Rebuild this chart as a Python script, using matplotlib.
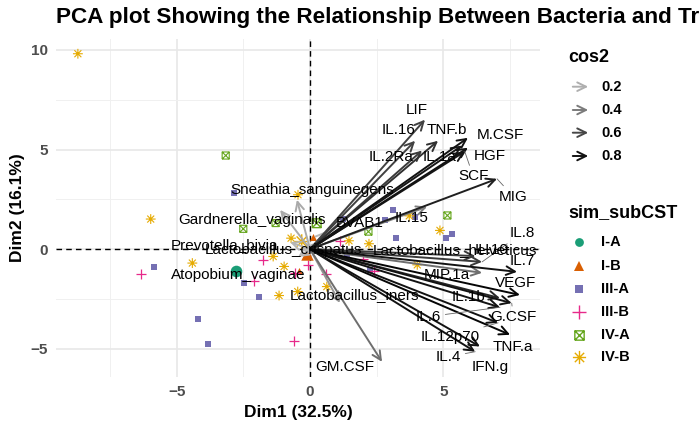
import numpy as np
import matplotlib
matplotlib.use("Agg")
import matplotlib.pyplot as plt
from matplotlib.path import Path
from matplotlib.colors import LinearSegmentedColormap, Normalize
from matplotlib.patches import FancyArrowPatch

plt.rcParams['font.family'] = ['Liberation Sans', 'DejaVu Sans']

# ---------------- data ----------------
var_names = ["LIF", "IL.16", "TNF.b", "M.CSF", "HGF", "IL.2Ra", "IL.1a", "SCF", "MIG",
             "IL.15", "IL.8", "IL.10", "IL.7", "MIP.1a", "VEGF", "IL.1b", "G.CSF", "IL.6",
             "IL.12p70", "TNF.a", "IFN.g", "IL.4", "GM.CSF",
             "Sneathia_sanguinegens", "Gardnerella_vaginalis", "Prevotella_bivia",
             "Atopobium_vaginae", "Lactobacillus_iners", "Lactobacillus_crispatus",
             "Lactobacillus_helveticus", "BVAB1"]
var_x = [4.31, 3.94, 4.80, 5.92, 5.92, 4.20, 5.70, 5.80, 7.01,
         4.39, 6.45, 6.20, 7.76, 6.45, 7.87, 7.12, 7.56, 7.12,
         7.05, 7.50, 6.37, 6.19, 2.70,
         -0.49, -1.12, -0.75, -0.45, 1.12, -0.30, 0.30, 0.60]
var_y = [6.50, 5.44, 5.44, 5.59, 5.09, 4.95, 5.20, 4.90, 3.53,
         2.13, -0.64, -0.35, -1.14, -1.19, -2.30, -2.46, -2.71, -2.92,
         -3.70, -4.30, -4.89, -5.15, -5.66,
         2.48, 1.97, 0.35, -0.40, -2.70, -0.05, -0.05, 0.90]
var_cos2 = [0.62, 0.62, 0.68, 0.80, 0.80, 0.65, 0.78, 0.78, 0.75,
            0.38, 0.65, 0.65, 0.80, 0.45, 0.85, 0.72, 0.80, 0.80,
            0.80, 0.85, 0.80, 0.80, 0.45,
            0.22, 0.22, 0.18, 0.17, 0.30, 0.17, 0.17, 0.17]
lab_x = [4.00, 3.31, 5.13, 7.12, 6.75, 3.03, 4.87, 6.12, 7.62,
         3.81, 7.94, 6.81, 7.94, 5.13, 7.69, 5.94, 7.62, 4.44,
         5.25, 7.62, 6.75, 5.19, 1.31,
         0.08, -2.17, -3.22, -2.70, 1.65, -0.99, 5.44, 1.87]
lab_y = [7.00, 5.99, 5.99, 5.74, 4.69, 4.65, 4.65, 3.65, 2.64,
         1.56, 0.80, -0.04, -0.62, -1.29, -1.71, -2.38, -3.42, -3.39,
         -4.39, -4.89, -5.90, -5.40, -5.90,
         2.98, 1.44, 0.22, -1.29, -2.30, -0.04, -0.04, 1.31]
leader_vars = ["MIG", "SCF", "IL.8", "IL.6", "IL.12p70", "IL.4", "G.CSF"]

groups = ["I-A", "I-B", "III-A", "III-B", "IV-A", "IV-B"]
ind_x = {
    "I-A": [-2.79],
    "I-B": [0.12, -0.40],
    "III-A": [-2.85, -5.84, -4.20, -3.81, -2.47, -1.90, 1.25, 3.10, 2.81, 3.94, 3.22, 5.09, 5.31, 2.25, 1.40],
    "III-B": [-6.35, -1.75, -0.56, -0.06, 0.59, -2.09, -0.59, 1.12, 2.00, 2.40],
    "IV-A": [-3.16, -2.50, -1.29, 2.19, 5.15],
    "IV-B": [-8.70, -5.97, -4.41, -0.45, -0.71, -1.38, -0.97, -1.16, -0.46, 0.63, 1.46, 2.21, 3.72, 4.87, 4.02],
}
ind_y = {
    "I-A": [-1.12],
    "I-B": [0.63, -1.10],
    "III-A": [2.83, -0.90, -3.52, -4.76, -1.68, -2.38, 1.50, 1.94, 1.44, 1.61, 0.58, 0.58, 0.75, -1.04, -0.30],
    "III-B": [-1.24, -0.54, -1.20, -0.82, -1.24, -1.58, -4.59, 0.42, -0.50, -1.10],
    "IV-A": [4.70, 1.02, 1.31, 0.88, 1.69],
    "IV-B": [9.81, 1.51, -0.70, 2.73, 0.55, -0.37, -0.87, -2.33, -2.13, -1.88, 0.42, 0.27, 1.67, 0.94, -0.79],
}
mean_groups = ["I-A", "I-B", "IV-A", "IV-B"]
mean_x = [-2.79, -0.10, 0.25, -0.31]
mean_y = [-1.12, -0.25, 1.30, 0.38]

cos2_legend = [0.2, 0.4, 0.6, 0.8]
x_ticks = [-5, 0, 5]
y_ticks = [-5, 0, 5, 10]

# ---------------- styles ----------------
group_colors = {"I-A": "#1B9E77", "I-B": "#D95F02", "III-A": "#7570B3",
                "III-B": "#E7298A", "IV-A": "#66A61E", "IV-B": "#E6AB02"}
box_x = Path([(-1, -1), (1, -1), (1, 1), (-1, 1), (-1, -1),
              (-1, -1), (1, 1), (-1, 1), (1, -1)],
             [Path.MOVETO, Path.LINETO, Path.LINETO, Path.LINETO, Path.LINETO,
              Path.MOVETO, Path.LINETO, Path.MOVETO, Path.LINETO])
d = 0.7071
aster = Path([(-1, 0), (1, 0), (0, -1), (0, 1), (-d, -d), (d, d), (-d, d), (d, -d)],
             [Path.MOVETO, Path.LINETO] * 4)
group_marker = {"I-A": "o", "I-B": "^", "III-A": "s", "III-B": "+", "IV-A": box_x, "IV-B": aster}
group_size = {"I-A": 22, "I-B": 26, "III-A": 20, "III-B": 50, "IV-A": 26, "IV-B": 50}
mean_size = {"I-A": 70, "I-B": 80, "IV-A": 40, "IV-B": 110}
filled = {"I-A": True, "I-B": True, "III-A": True, "III-B": False, "IV-A": False, "IV-B": False}

cmap = LinearSegmentedColormap.from_list("gk", ["#C4C4C4", "#000000"])
norm = Normalize(vmin=0.12, vmax=0.87)

fig = plt.figure(figsize=(7, 4.32), dpi=100)
W, H = 700, 432
ax = fig.add_axes([56 / W, 1 - 377 / H, (540 - 56) / W, (377 - 39) / H])
ax.set_xlim(-9.52, 8.62)
ax.set_ylim(-6.42, 10.55)
for s in ax.spines.values():
    s.set_visible(False)
ax.set_xticks(x_ticks)
ax.set_yticks(y_ticks)
ax.set_xticks([-7.5, -2.5, 2.5, 7.5], minor=True)
ax.set_yticks([-2.5, 2.5, 7.5], minor=True)
ax.tick_params(which="both", length=0)
ax.tick_params(axis="both", labelsize=11, labelcolor="#4D4D4D", pad=6)
for lbl in ax.get_xticklabels() + ax.get_yticklabels():
    lbl.set_fontweight("bold")
ax.grid(which="major", color="#E8E8E8", lw=1.2, zorder=0)
ax.grid(which="minor", color="#F0F0F0", lw=0.7, zorder=0)
ax.set_axisbelow(True)

ax.axhline(0, color="black", ls=(0, (4, 3)), lw=1.0, zorder=1)
ax.axvline(0, color="black", ls=(0, (4, 3)), lw=1.0, zorder=1)

# individuals
for g in groups:
    col = group_colors[g]
    kw = dict(marker=group_marker[g], s=group_size[g], zorder=2)
    if filled[g]:
        ax.scatter(ind_x[g], ind_y[g], color=col, linewidths=0, **kw)
    elif g == "III-B":
        ax.scatter(ind_x[g], ind_y[g], color=col, linewidths=0.9, **kw)
    else:
        ax.scatter(ind_x[g], ind_y[g], facecolors="none", edgecolors=col, linewidths=0.8, **kw)
for g, mx, my in zip(mean_groups, mean_x, mean_y):
    col = group_colors[g]
    if filled[g]:
        ax.scatter([mx], [my], marker=group_marker[g], s=mean_size[g], color=col, linewidths=0, zorder=2.5)
    else:
        ax.scatter([mx], [my], marker=group_marker[g], s=mean_size[g], facecolors="none",
                   edgecolors=col, linewidths=1.0, zorder=2.5)

# variable arrows
order = np.argsort(var_cos2)
for i in order:
    c = cmap(norm(var_cos2[i]))
    ax.annotate("", xy=(var_x[i], var_y[i]), xytext=(0, 0),
                arrowprops=dict(arrowstyle="->,head_length=0.45,head_width=0.22", color=c, lw=1.4,
                                shrinkA=0, shrinkB=0, mutation_scale=14), zorder=3)

# labels
for i, name in enumerate(var_names):
    if name in leader_vars:
        ax.annotate(name, xy=(var_x[i], var_y[i]), xytext=(lab_x[i], lab_y[i]),
                    ha="center", va="center", fontsize=11, color="black", zorder=4,
                    arrowprops=dict(arrowstyle="-", color="#666666", lw=0.6, shrinkA=1, shrinkB=0))
    else:
        ax.text(lab_x[i], lab_y[i], name, ha="center", va="center", fontsize=11,
                color="black", zorder=4, clip_on=True)

ax.set_xlabel("Dim1 (32.5%)", fontsize=12.5, fontweight="bold", labelpad=4)
ax.set_ylabel("Dim2 (16.1%)", fontsize=12.5, fontweight="bold", labelpad=4)

fig.text(56.5 / W, 1 - 18 / H, "PCA plot Showing the Relationship Between Bacteria and Treatment",
         fontsize=16.2, fontweight="bold", ha="left", va="center")

# ---------------- legends (drawn manually) ----------------
fig.text(568 / W, 1 - 58 / H, "cos2", fontsize=13, fontweight="bold", ha="left", va="center")
leg_y = [86.7, 110, 132.7, 156]
for v, yy in zip(cos2_legend, leg_y):
    c = cmap(norm(v))
    fig.add_artist(FancyArrowPatch((570 / W, 1 - yy / H), (591 / W, 1 - yy / H),
                                   transform=fig.transFigure,
                                   arrowstyle="->,head_length=0.45,head_width=0.22",
                                   mutation_scale=14, color=c, lw=1.4))
    fig.text(601 / W, 1 - yy / H, f"{v}", fontsize=10.5, fontweight="bold", ha="left", va="center")

fig.text(568 / W, 1 - 213 / H, "sim_subCST", fontsize=13, fontweight="bold", ha="left", va="center")
leg2_y = [241.7, 266, 289.3, 312.3, 335, 357]
for g, yy in zip(groups, leg2_y):
    col = group_colors[g]
    px, py = 579 / W, 1 - yy / H
    s = {"I-A": 40, "I-B": 55, "III-A": 40, "III-B": 90, "IV-A": 45, "IV-B": 90}[g]
    if filled[g]:
        fig.add_artist(plt.Line2D([px], [py], transform=fig.transFigure, marker=group_marker[g],
                                  markersize=np.sqrt(s), color=col, markeredgewidth=0, ls="none"))
    else:
        fig.add_artist(plt.Line2D([px], [py], transform=fig.transFigure, marker=group_marker[g],
                                  markersize=np.sqrt(s), markerfacecolor="none", markeredgecolor=col,
                                  markeredgewidth=1.0, ls="none"))
    fig.text(601 / W, py, g, fontsize=10.5, fontweight="bold", ha="left", va="center")

fig.savefig("out.png", dpi=100)
